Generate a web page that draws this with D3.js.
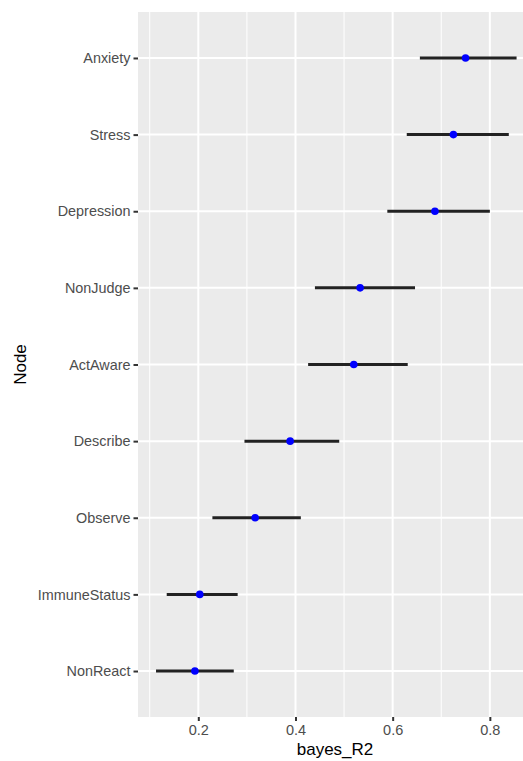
<!DOCTYPE html>
<html>
<head>
<meta charset="utf-8">
<script src="https://cdn.jsdelivr.net/npm/d3@7"></script>
<style>
  body { margin: 0; background: #fff; }
  svg { display: block; overflow: hidden; }
</style>
</head>
<body>
<div id="chart"></div>
<script>
// nodes, top to bottom
const nodes = ["Anxiety", "Stress", "Depression", "NonJudge", "ActAware",
               "Describe", "Observe", "ImmuneStatus", "NonReact"];
// point estimate + interval ends of bayes_R2
const estimate = [0.750, 0.725, 0.687, 0.533, 0.520, 0.389, 0.317, 0.203, 0.193];
const lower    = [0.656, 0.629, 0.589, 0.440, 0.426, 0.295, 0.229, 0.135, 0.113];
const upper    = [0.855, 0.839, 0.800, 0.646, 0.631, 0.490, 0.411, 0.281, 0.273];
const majorTicks = [0.2, 0.4, 0.6, 0.8];
const minorTicks = [0.1, 0.3, 0.5, 0.7, 0.9];

const rows = nodes.map((n, i) => ({ node: n, est: estimate[i], lo: lower[i], hi: upper[i] }));

const W = 523, H = 761;
// panel runs off the right edge of the picture (cropped like the original)
const panel = { left: 138, top: 12, right: 534.6, bottom: 717 };

const svg = d3.select("#chart").append("svg")
    .attr("width", W)
    .attr("height", H)
    .style("font-family", "'Liberation Sans', Arial, sans-serif");

// ggplot style 5% expansion on x
const lo = d3.min(rows, d => d.lo), hi = d3.max(rows, d => d.hi);
const pad = (hi - lo) * 0.05;
const x = d3.scaleLinear()
    .domain([lo - pad, hi + pad])
    .range([panel.left, panel.right]);

const y = d3.scalePoint()
    .domain(nodes)
    .range([panel.top, panel.bottom])
    .padding(0.6);

// panel background
svg.append("rect")
    .attr("x", panel.left)
    .attr("y", panel.top)
    .attr("width", panel.right - panel.left)
    .attr("height", panel.bottom - panel.top)
    .attr("fill", "#ebebeb");

// grid lines
svg.append("g").selectAll("line")
    .data(minorTicks)
    .join("line")
    .attr("x1", d => x(d)).attr("x2", d => x(d))
    .attr("y1", panel.top).attr("y2", panel.bottom)
    .attr("stroke", "#fff")
    .attr("stroke-width", 1);

svg.append("g").selectAll("line")
    .data(majorTicks)
    .join("line")
    .attr("x1", d => x(d)).attr("x2", d => x(d))
    .attr("y1", panel.top).attr("y2", panel.bottom)
    .attr("stroke", "#fff")
    .attr("stroke-width", 2);

svg.append("g").selectAll("line")
    .data(nodes)
    .join("line")
    .attr("x1", panel.left).attr("x2", panel.right)
    .attr("y1", d => y(d)).attr("y2", d => y(d))
    .attr("stroke", "#fff")
    .attr("stroke-width", 2);

// x axis
const xAxis = svg.append("g")
    .attr("transform", `translate(0,${panel.bottom})`)
    .call(d3.axisBottom(x).tickValues(majorTicks).tickSize(4).tickPadding(3.5).tickFormat(d3.format(".1f")));
xAxis.select(".domain").remove();
xAxis.selectAll(".tick line").attr("stroke", "#333").attr("stroke-width", 2);
xAxis.selectAll(".tick text")
    .attr("fill", "#4d4d4d")
    .style("font-size", "14.5px");

// y axis
const yAxis = svg.append("g")
    .attr("transform", `translate(${panel.left},0)`)
    .call(d3.axisLeft(y).tickSize(4.5).tickPadding(3));
yAxis.select(".domain").remove();
yAxis.selectAll(".tick line").attr("stroke", "#333").attr("stroke-width", 2);
yAxis.selectAll(".tick text")
    .attr("fill", "#4d4d4d")
    .style("font-size", "14.4px");

// interval lines
svg.append("g").selectAll("line")
    .data(rows)
    .join("line")
    .attr("x1", d => x(d.lo)).attr("x2", d => x(d.hi))
    .attr("y1", d => y(d.node)).attr("y2", d => y(d.node))
    .attr("stroke", "#222")
    .attr("stroke-width", 3);

// point estimates
svg.append("g").selectAll("circle")
    .data(rows)
    .join("circle")
    .attr("cx", d => x(d.est))
    .attr("cy", d => y(d.node))
    .attr("r", 3.8)
    .attr("fill", "#0000ff");

// axis titles
svg.append("text")
    .attr("x", 335)
    .attr("y", 755)
    .attr("text-anchor", "middle")
    .style("font-size", "17px")
    .attr("fill", "#000")
    .text("bayes_R2");

svg.append("text")
    .attr("transform", `translate(26,${(panel.top + panel.bottom) / 2}) rotate(-90)`)
    .attr("text-anchor", "middle")
    .style("font-size", "17px")
    .attr("fill", "#000")
    .text("Node");
</script>
</body>
</html>
